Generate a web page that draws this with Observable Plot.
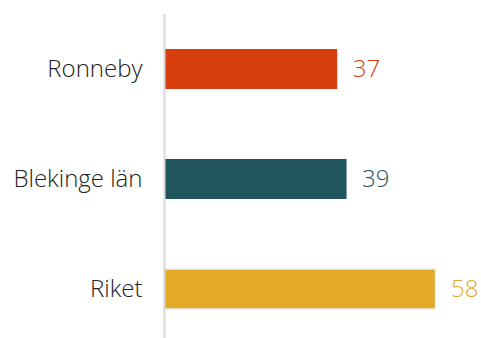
<!DOCTYPE html>
<html>
<head>
<meta charset="utf-8">
<script src="https://cdn.jsdelivr.net/npm/d3@7"></script>
<script src="https://cdn.jsdelivr.net/npm/@observablehq/plot@0.6"></script>
<style>
  html, body { margin: 0; padding: 0; background: #fff; }
  svg { display: block; }
</style>
</head>
<body>
<div id="chart"></div>
<script>
const categories = ["Ronneby", "Blekinge län", "Riket"];
const values = [37, 39, 58];
const colors = ["#d83f0e", "#20555e", "#e3a927"];
const strokes = ["none", "none", "#e4f1f1"];

const data = categories.map((c, i) => ({name: c, value: values[i], color: colors[i], stroke: strokes[i]}));

const chart = Plot.plot({
  width: 481,
  height: 338,
  marginLeft: 164,
  marginRight: 45.5,
  marginTop: 14,
  marginBottom: -6,
  style: {fontFamily: "'Open Sans', sans-serif", background: "#fff"},
  x: {domain: [0, 58], axis: null},
  y: {domain: categories, paddingInner: 0.636, paddingOuter: 0.318, label: null},
  marks: [
    Plot.axisY({tickSize: 0, tickPadding: 22, fontSize: 24, fill: "#222", label: null, fontWeight: 300}),
    Plot.barX(data, {x: "value", y: "name", fill: "color", stroke: "stroke", strokeWidth: 1.5}),
    Plot.ruleX([0], {stroke: "#d8d8d8", strokeWidth: 2}),
    Plot.text(data, {x: "value", y: "name", text: d => String(d.value), fill: "color", dx: 15, textAnchor: "start", fontSize: 24, fontWeight: 300})
  ]
});
document.getElementById("chart").appendChild(chart);
</script>
</body>
</html>
